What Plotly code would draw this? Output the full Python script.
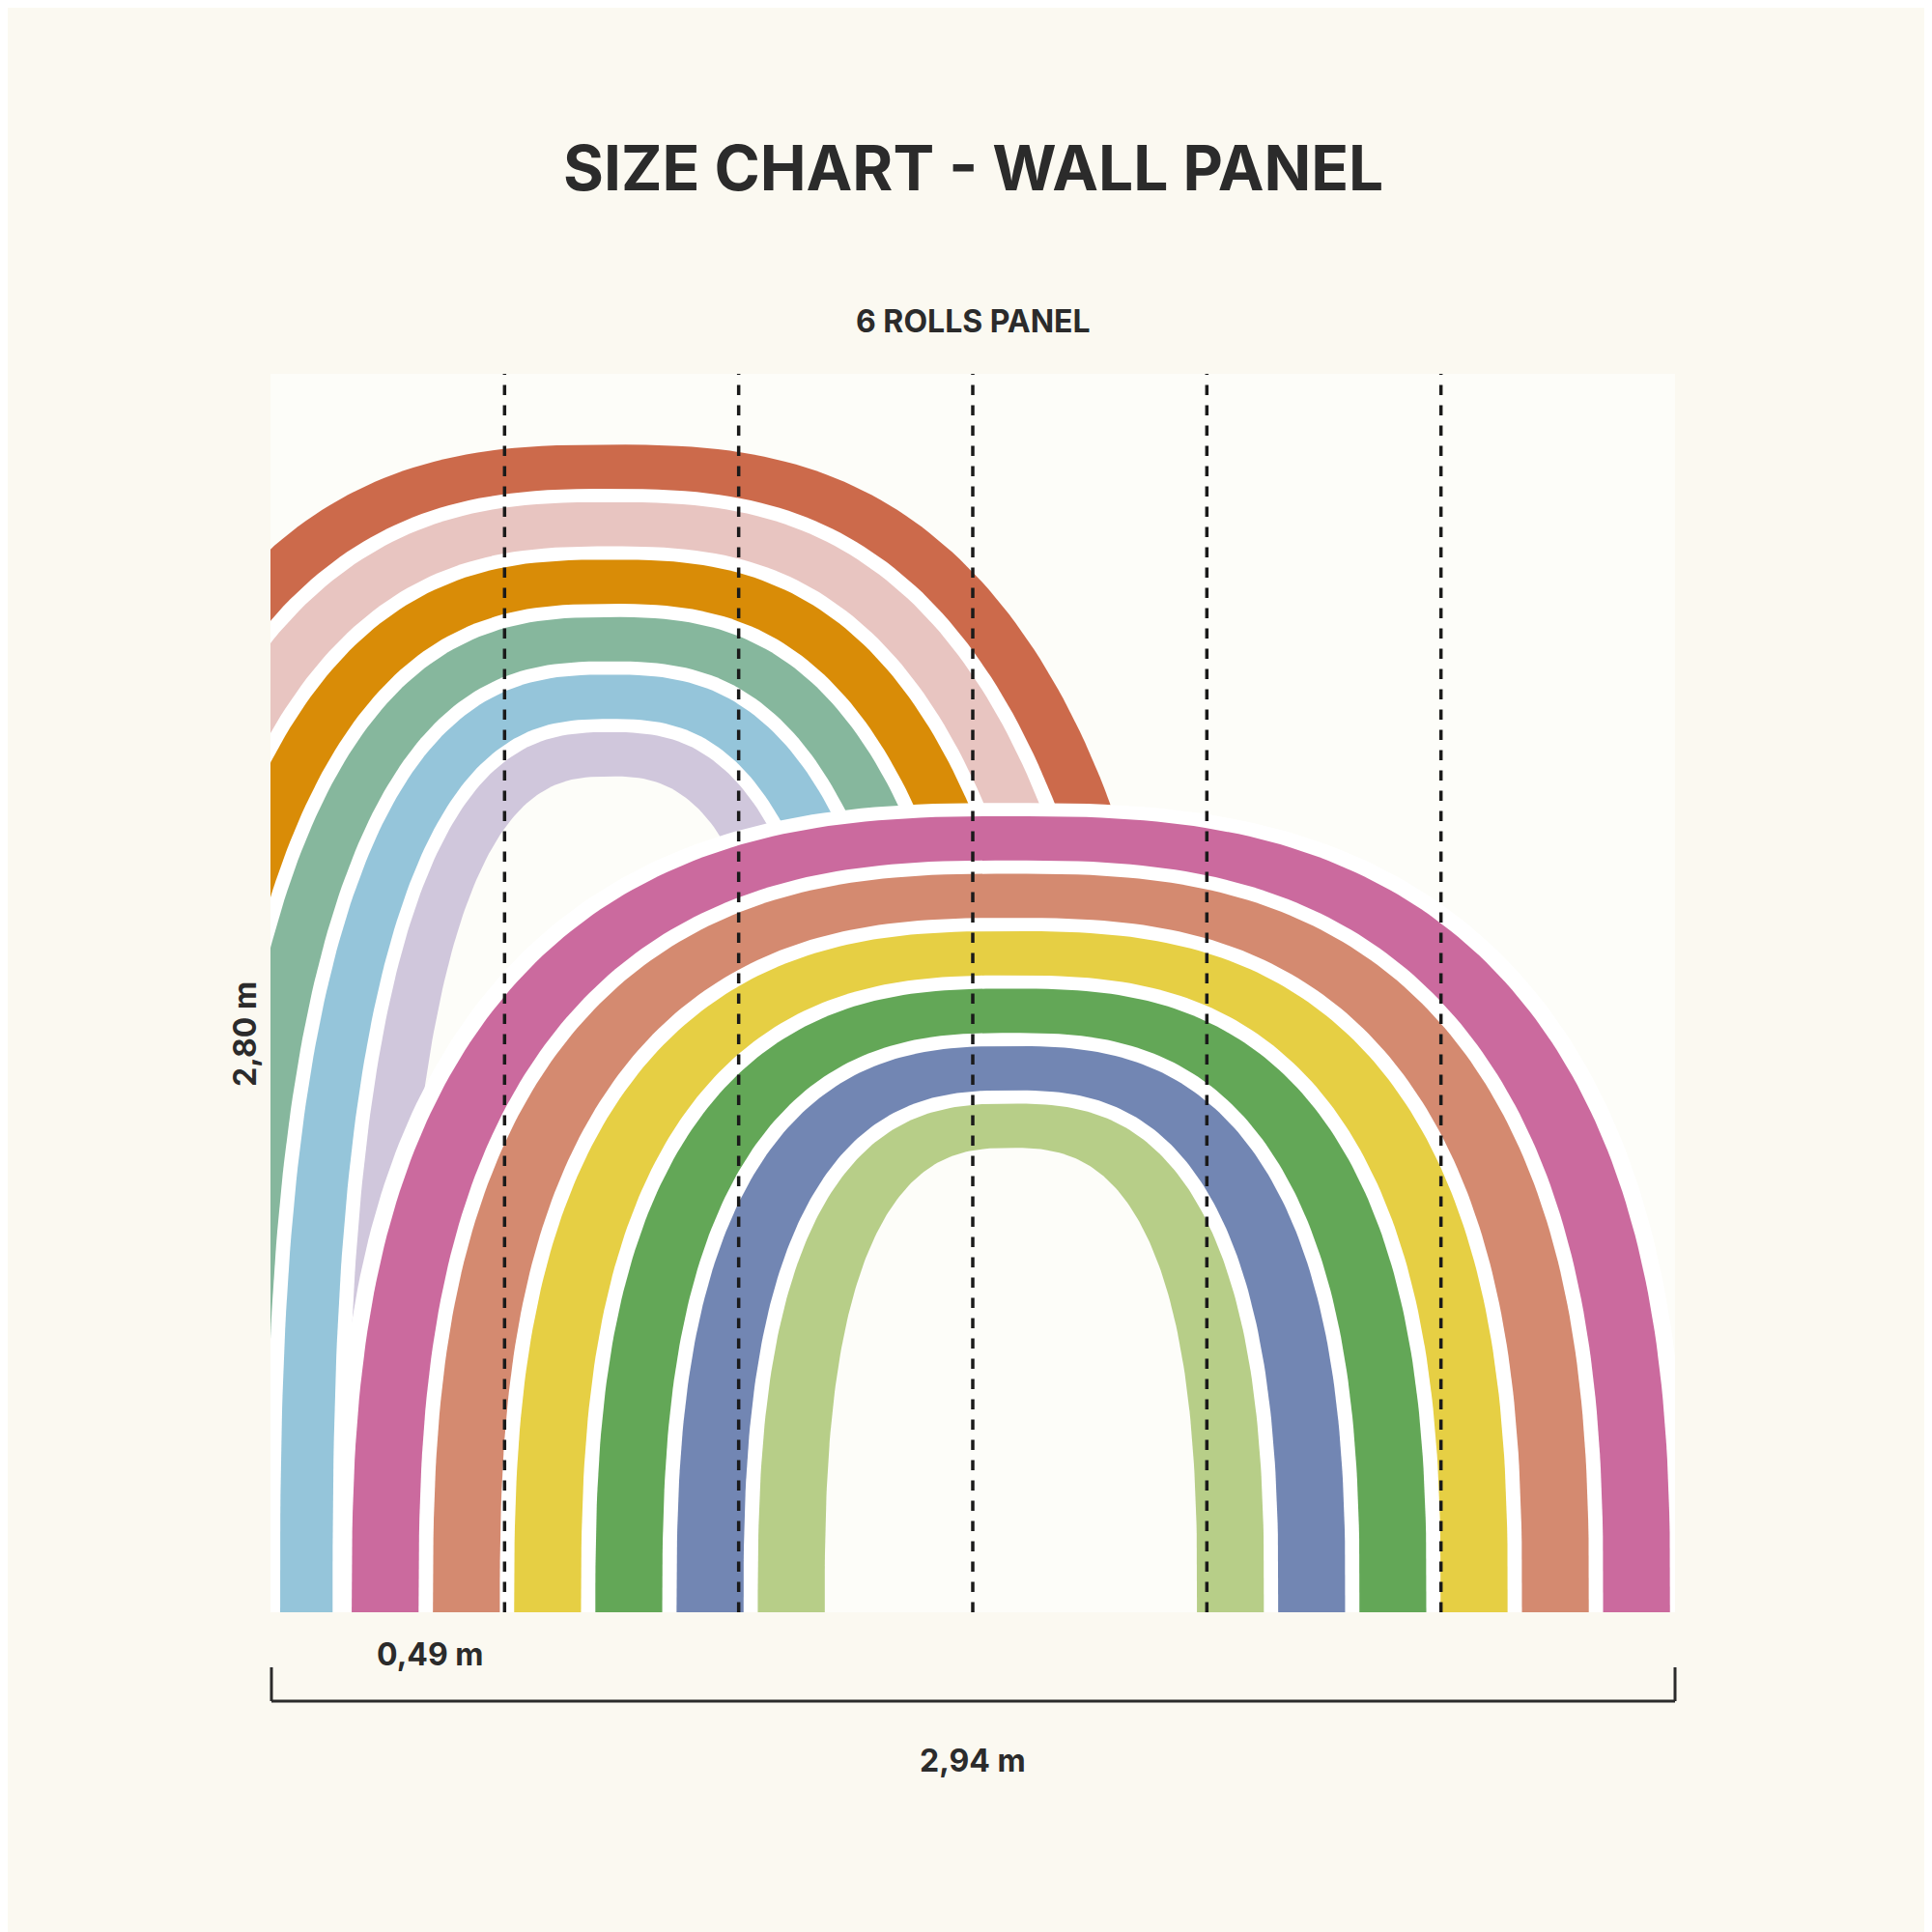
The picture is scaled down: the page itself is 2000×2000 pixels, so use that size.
import numpy as np
import plotly.graph_objects as go

PANEL_W, PANEL_H = 2.94, 2.80
roll_lines = [0.49, 0.98, 1.47, 1.96, 2.45]

back_cx = 0.71
back_colors = ["#cc6a4b", "#e8c5c1", "#d98c07", "#86b79d", "#95c5da", "#d0c7dc"]
back_widths = [1.25, 1.11, 0.97, 0.83, 0.69, 0.55]
back_heights = [2.64, 2.51, 2.38, 2.25, 2.12, 1.99]

front_cx = 1.55
front_colors = ["#cb6a9e", "#d48a70", "#e6cf44", "#63a757", "#7286b3", "#b7ce88"]
front_widths = [1.38, 1.21, 1.04, 0.87, 0.70, 0.53]
front_heights = [1.80, 1.67, 1.54, 1.41, 1.28, 1.15]

PAGE = "#fbf9f1"
PANEL = "#fdfdf9"
WHITE = "#ffffff"

fig = go.Figure()

def arch(cx, a, b, color, p=0.75):
    t = np.linspace(0, np.pi, 200)
    c, s = np.cos(t), np.sin(t)
    xs = cx + a * np.sign(c) * np.abs(c) ** p
    ys = b * np.abs(s) ** p
    xs = np.concatenate([[cx + a], xs, [cx - a]])
    ys = np.concatenate([[-0.2], ys, [-0.2]])
    fig.add_trace(go.Scatter(x=xs, y=ys, fill="toself", fillcolor=color, mode="lines",
                             line=dict(width=0), hoverinfo="skip", showlegend=False))

def rainbow(cx, widths, heights, colors, th, tv, outline=False):
    if outline:
        arch(cx, widths[0] + 0.035, heights[0] + 0.03, WHITE)
    for i, (a, b, col) in enumerate(zip(widths, heights, colors)):
        arch(cx, a, b, col)
        last = i == len(colors) - 1
        arch(cx, a - th, b - tv, PANEL if last else WHITE)

rainbow(back_cx, back_widths, back_heights, back_colors, 0.11, 0.10)
rainbow(front_cx, front_widths, front_heights, front_colors, 0.14, 0.10, outline=True)

for xv in roll_lines:
    fig.add_trace(go.Scatter(x=[xv, xv], y=[0, PANEL_H], mode="lines",
                             line=dict(color="#1a1a1a", width=3.5, dash="dash"),
                             hoverinfo="skip", showlegend=False))

font = "Inter"
fig.update_layout(
    width=2000, height=2000, paper_bgcolor=PAGE, plot_bgcolor=PANEL,
    margin=dict(l=272, r=274, t=379, b=339),
    xaxis=dict(range=[0, PANEL_W], visible=False, fixedrange=True),
    yaxis=dict(range=[0, PANEL_H], visible=False, fixedrange=True),
    showlegend=False,
)
ann = [
    dict(text="<b>SIZE CHART - WALL PANEL</b>", x=0.5, y=166, size=64),
    dict(text="<b>6 ROLLS PANEL</b>", x=0.5, y=324, size=32),
    dict(text="<b>2,94 m</b>", x=0.5, y=1814, size=32),
]
for a in ann:
    fig.add_annotation(text=a["text"], xref="paper", yref="paper", x=a["x"],
                       y=1 - (a["y"] - 379) / (2000 - 379 - 339) if False else None,
                       showarrow=False)
fig.layout.annotations = []
def py(ypx):
    return (2000 - 339 - ypx) / (2000 - 379 - 339)
def px(xpx):
    return (xpx - 272) / (2000 - 272 - 274)
for a in ann:
    fig.add_annotation(text=a["text"], xref="paper", yref="paper", x=0.5, y=py(a["y"]),
                       showarrow=False, font=dict(family=font, size=a["size"], color="#2b2b2b"),
                       yanchor="middle")
fig.add_annotation(text="<b>0,49 m</b>", xref="paper", yref="paper", x=px(380), y=py(1704),
                   showarrow=False, font=dict(family=font, size=32, color="#2b2b2b"), yanchor="middle")
fig.add_annotation(text="<b>2,80 m</b>", xref="paper", yref="paper", x=px(245), y=py(1063),
                   showarrow=False, textangle=-90, font=dict(family=font, size=32, color="#2b2b2b"),
                   xanchor="center", yanchor="middle")
# bracket
for (x0, y0, x1, y1) in [(px(273), py(1753), px(1726), py(1753)),
                         (px(273), py(1718), px(273), py(1753)),
                         (px(1726), py(1718), px(1726), py(1753))]:
    fig.add_shape(type="line", xref="paper", yref="paper", x0=x0, y0=y0, x1=x1, y1=y1,
                  line=dict(color="#2b2b2b", width=3))
fig.write_html("out.html")
